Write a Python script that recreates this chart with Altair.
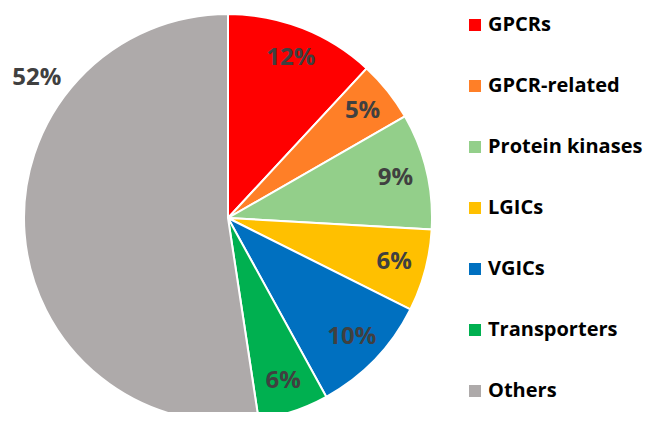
import altair as alt
import pandas as pd

categories = ["GPCRs", "GPCR-related", "Protein kinases", "LGICs", "VGICs", "Transporters", "Others"]
shares = [11.9, 4.8, 9.2, 6.5, 9.6, 5.6, 52.4]
labels = ["12%", "5%", "9%", "6%", "10%", "6%", "52%"]
colors = ["#FF0000", "#FF7F27", "#93CF8A", "#FFC000", "#0070C0", "#00B050", "#AEAAAA"]

df = pd.DataFrame({
    "category": categories,
    "share": shares,
    "label": labels,
    "idx": list(range(len(categories))),
})

CX, CY, R = 220, 210, 204
FONT = "Open Sans"

base = alt.Chart(df).encode(
    theta=alt.Theta("share:Q", stack=True),
    order=alt.Order("idx:Q"),
    x=alt.value(CX),
    y=alt.value(CY),
)

arcs = base.mark_arc(outerRadius=R, stroke="white", strokeWidth=2).encode(
    color=alt.Color(
        "category:N",
        scale=alt.Scale(domain=categories, range=colors),
        sort=categories,
        legend=alt.Legend(
            title=None,
            orient="none",
            legendX=457,
            legendY=7,
            symbolType="square",
            symbolSize=144,
            symbolStrokeWidth=0,
            labelFont=FONT,
            labelFontSize=20,
            labelFontWeight="bold",
            labelColor="#000000",
            labelOffset=3,
            rowPadding=41,
            labelLimit=300,
        ),
    )
)

inner = base.transform_filter(alt.datum.category != "Others").mark_text(
    radius=172, font=FONT, fontSize=24, fontWeight="bold", color="#404040"
).encode(text="label:N")

outer = alt.Chart(df).transform_filter(alt.datum.category == "Others").mark_text(
    theta=5.344, radius=237, font=FONT, fontSize=24, fontWeight="bold", color="#404040"
).encode(text="label:N", x=alt.value(CX), y=alt.value(CY))

chart = alt.layer(arcs, inner, outer).properties(
    width=637, height=404,
    autosize=alt.AutoSizeParams(type="none"),
    padding=0,
).configure_view(stroke=None)

chart.save("out.html", embed_options={"renderer": "svg", "actions": False})
